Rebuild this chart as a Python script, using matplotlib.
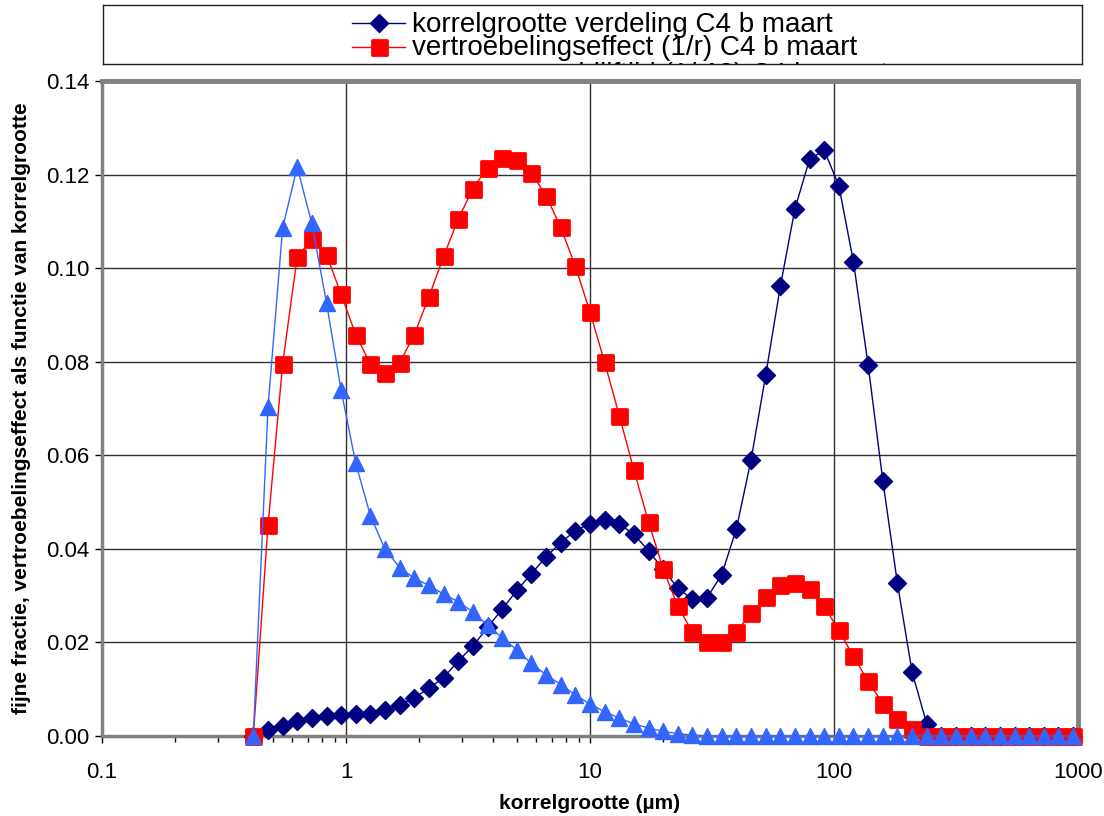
import matplotlib
matplotlib.use("Agg")
import matplotlib.pyplot as plt
from matplotlib.markers import MarkerStyle
from matplotlib.ticker import FixedLocator, NullFormatter, LogLocator

plt.rcParams['font.family'] = ['Liberation Sans', 'DejaVu Sans']

# size classes (um)
korrel = [0.417, 0.479, 0.550, 0.631, 0.724, 0.832, 0.955, 1.096, 1.259, 1.445,
          1.660, 1.905, 2.188, 2.512, 2.884, 3.311, 3.802, 4.365, 5.012, 5.754,
          6.607, 7.586, 8.710, 10.00, 11.48, 13.18, 15.14, 17.38, 19.95, 22.91,
          26.30, 30.20, 34.67, 39.81, 45.71, 52.48, 60.26, 69.18, 79.43, 91.20,
          104.7, 120.2, 138.0, 158.5, 182.0, 208.9, 239.9, 275.4, 316.2, 363.1,
          416.9, 478.6, 549.5, 631.0, 724.4, 831.8, 955.0]

verdeling = [0.0, 0.0012, 0.0021, 0.0031, 0.0038, 0.0042, 0.0045, 0.0046, 0.0048, 0.0055,
             0.0066, 0.0082, 0.0102, 0.0125, 0.0160, 0.0192, 0.0232, 0.0271, 0.0311, 0.0347,
             0.0383, 0.0413, 0.0439, 0.0454, 0.0461, 0.0453, 0.0431, 0.0396, 0.0356, 0.0316,
             0.0292, 0.0296, 0.0345, 0.0443, 0.0590, 0.0771, 0.0961, 0.1127, 0.1233, 0.1252,
             0.1176, 0.1013, 0.0793, 0.0546, 0.0326, 0.0137, 0.0026, 0.0, 0.0, 0.0,
             0.0, 0.0, 0.0, 0.0, 0.0, 0.0, 0.0]

vertroebeling = [0.0, 0.0450, 0.0795, 0.1024, 0.1062, 0.1029, 0.0944, 0.0858, 0.0795, 0.0776,
                 0.0798, 0.0858, 0.0939, 0.1025, 0.1105, 0.1170, 0.1215, 0.1236, 0.1232, 0.1203,
                 0.1155, 0.1087, 0.1004, 0.0906, 0.0799, 0.0685, 0.0568, 0.0457, 0.0357, 0.0277,
                 0.0222, 0.0200, 0.0201, 0.0223, 0.0262, 0.0297, 0.0323, 0.0328, 0.0314, 0.0277,
                 0.0226, 0.0170, 0.0117, 0.0069, 0.0036, 0.0015, 0.0, 0.0, 0.0, 0.0,
                 0.0, 0.0, 0.0, 0.0, 0.0, 0.0, 0.0]

massa = [0.0, 0.0703, 0.1086, 0.1216, 0.1096, 0.0926, 0.0739, 0.0583, 0.0471, 0.0399,
         0.0360, 0.0337, 0.0322, 0.0303, 0.0287, 0.0265, 0.0237, 0.0210, 0.0184, 0.0155,
         0.0131, 0.0110, 0.0088, 0.0068, 0.0052, 0.0038, 0.0026, 0.0017, 0.0010, 0.0005,
         0.0002, 0.0, 0.0, 0.0, 0.0, 0.0, 0.0, 0.0, 0.0, 0.0,
         0.0, 0.0, 0.0, 0.0, 0.0, 0.0, 0.0, 0.0, 0.0, 0.0,
         0.0, 0.0, 0.0, 0.0, 0.0, 0.0, 0.0]

labels = ['korrelgrootte verdeling C4 b maart',
          'vertroebelingseffect (1/r) C4 b maart',
          'massa en verblijftijd (1/r^3) C4 b maart']

navy = '#000080'
red = '#FF0000'
blue = '#3366FF'

# marker, size, edge width per series
styles = [(navy, MarkerStyle('D', joinstyle='round'), 9.5, 1.0),
          (red, MarkerStyle('s', joinstyle='round'), 10.8, 2.0),
          (blue, MarkerStyle('^', joinstyle='round'), 12.0, 1.0)]

fig = plt.figure(figsize=(11.04, 8.16), dpi=100)

# main plot
ax = fig.add_axes([102 / 1104, 1 - 736 / 816, 976 / 1104, 655 / 816])
for (col, mk, ms, mew), vals, z in zip(styles, [verdeling, vertroebeling, massa], [3, 4, 5]):
    ax.plot(korrel, vals, color=col, lw=1.0, marker=mk, ms=ms, mew=mew,
            mec=col, mfc=col, zorder=z, clip_on=False)

ax.set_xscale('log')
ax.set_xlim(0.1, 1000)
ax.set_ylim(0, 0.14)
ax.set_yticks([0, 0.02, 0.04, 0.06, 0.08, 0.10, 0.12, 0.14])
ax.set_yticklabels(['%.2f' % v for v in ax.get_yticks()])
ax.xaxis.set_major_locator(FixedLocator([0.1, 1, 10, 100, 1000]))
ax.set_xticklabels(['0.1', '1', '10', '100', '1000'])
ax.xaxis.set_minor_locator(LogLocator(base=10, subs=range(2, 10), numticks=20))
ax.xaxis.set_minor_formatter(NullFormatter())
ax.tick_params(axis='both', which='major', direction='out', length=5, width=1,
               labelsize=16, color='black')
ax.tick_params(axis='x', which='minor', direction='out', length=4, width=1)
ax.tick_params(axis='x', pad=14)
ax.tick_params(axis='y', pad=4)

ax.grid(True, which='major', color='#303030', lw=1.0)
ax.set_axisbelow(True)
for side in ['top', 'right']:
    ax.spines[side].set_color('#808080')
    ax.spines[side].set_linewidth(3.5)
for side in ['left', 'bottom']:
    ax.spines[side].set_color('#808080')
    ax.spines[side].set_linewidth(2.5)

ax.set_xlabel('korrelgrootte (µm)', fontsize=15, fontweight='bold')
ax.xaxis.set_label_coords(0.5, -0.088)
ax.set_ylabel('fijne fractie, vertroebelingseffect als functie van korrelgrootte',
              fontsize=15, fontweight='bold')
ax.yaxis.set_label_coords(-0.073, 0.5)

# legend box (third entry is cut off by the box edge)
lax = fig.add_axes([103 / 1104, 1 - 64 / 816, 979 / 1104, 59 / 816])
lax.set_xlim(0, 979)
lax.set_ylim(59, 0)
lax.set_xticks([])
lax.set_yticks([])
for side in lax.spines:
    lax.spines[side].set_color('#202020')
    lax.spines[side].set_linewidth(1.0)

rows = [18, 41.5, 68]
for (col, mk, ms, mew), yy, lab in zip(styles, rows, labels):
    lax.plot([249, 302], [yy, yy], color=col, lw=1.0)
    lax.plot([276], [yy], marker=mk, ms=ms, mew=mew, color=col, mec=col)
    lax.text(309, yy + 8.5, lab, fontsize=20, va='baseline', ha='left', clip_on=True)

fig.savefig('out.png', dpi=100)
